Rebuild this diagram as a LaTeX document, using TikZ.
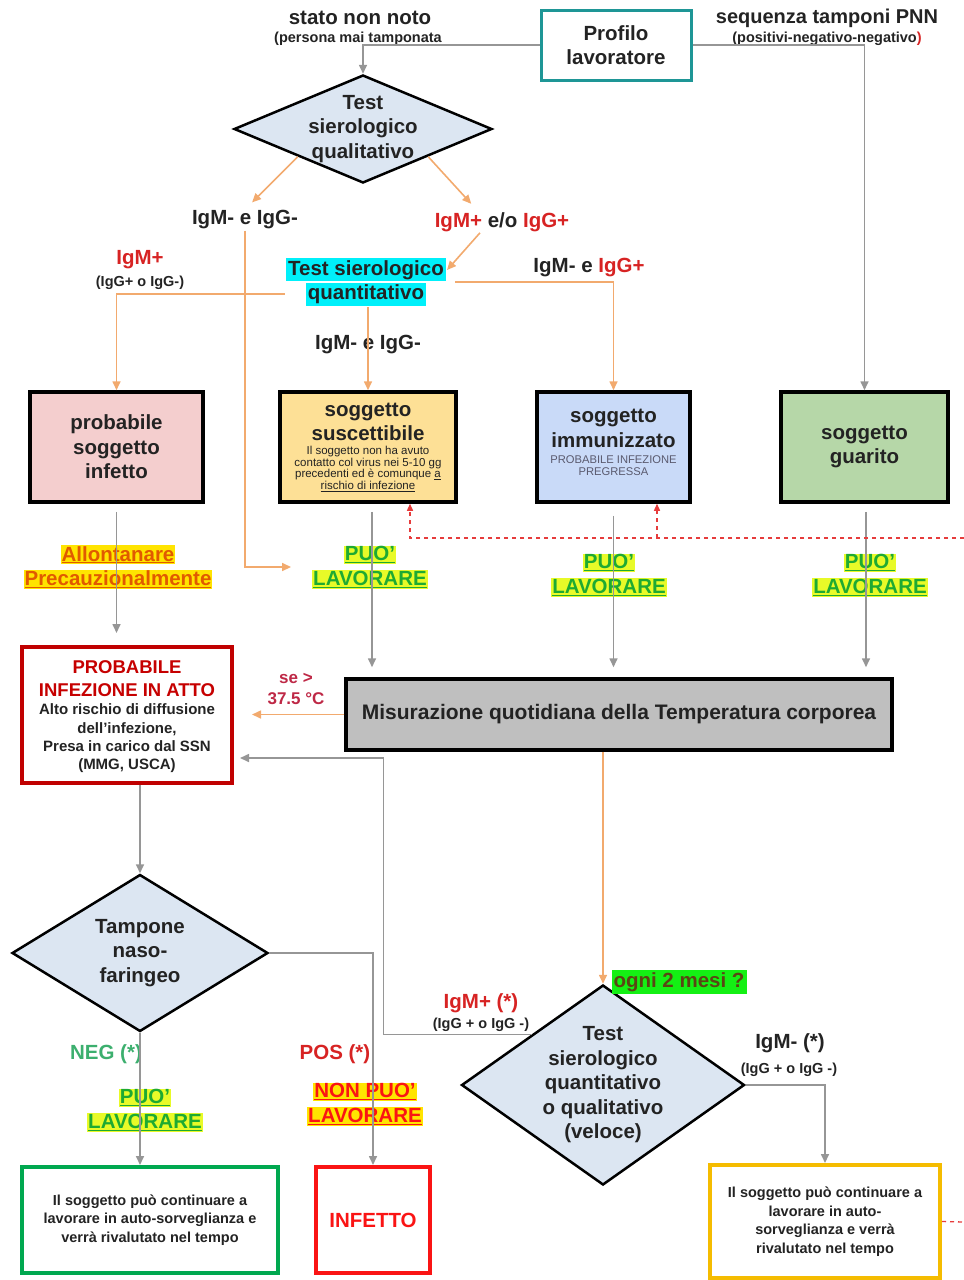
\documentclass[tikz,border=0pt]{standalone}
\usepackage{fontspec}
\setmainfont{Liberation Sans}
\usetikzlibrary{arrows.meta,shapes.geometric}

\definecolor{tealline}{RGB}{30,150,150}
\definecolor{orline}{RGB}{242,170,110}
\definecolor{greyline}{RGB}{150,150,150}
\definecolor{igred}{RGB}{215,35,35}
\definecolor{pinkfill}{RGB}{244,206,206}
\definecolor{yelfill}{RGB}{253,224,150}
\definecolor{bluefill}{RGB}{201,218,248}
\definecolor{greenfill}{RGB}{182,215,168}
\definecolor{diamfill}{RGB}{220,230,242}
\definecolor{greyfill}{RGB}{191,191,191}
\definecolor{darkred}{RGB}{192,0,0}
\definecolor{boxgreen}{RGB}{0,168,80}
\definecolor{boxred}{RGB}{250,20,20}
\definecolor{boxgold}{RGB}{245,188,0}
\definecolor{hlyellow}{RGB}{232,250,40}
\definecolor{hlorange}{RGB}{255,228,0}
\definecolor{puogreen}{RGB}{30,170,50}
\definecolor{allorange}{RGB}{225,90,0}
\definecolor{hlcyan}{RGB}{0,240,250}
\definecolor{hlgreen}{RGB}{20,240,20}
\definecolor{ognitxt}{RGB}{90,70,20}
\definecolor{negtext}{RGB}{60,175,110}
\definecolor{tempred}{RGB}{190,40,70}
\definecolor{txt}{RGB}{35,35,35}
\definecolor{graytxt}{RGB}{90,90,110}
\definecolor{dashred}{RGB}{230,60,60}

% highlighted, underlined word
\newcommand{\hiword}[3]{{\setlength{\fboxsep}{1pt}\colorbox{#1}{\textcolor{#2}{\underline{#3}}}}}
% highlighted word, no underline
\newcommand{\hiplain}[2]{{\setlength{\fboxsep}{2pt}\colorbox{#1}{#2}}}

\begin{document}
\begin{tikzpicture}[x=1pt, y=-1pt,
  lbl/.style={font=\bfseries\fontsize{20.5}{24.5}\selectfont, text=txt, align=center, inner sep=1pt},
  note/.style={font=\bfseries\fontsize{14.5}{17}\selectfont, text=txt, align=center, inner sep=1pt},
  boxtxt/.style={font=\bfseries\fontsize{14.5}{18.5}\selectfont, text=txt, align=center},
  card/.style={lbl, draw=black, line width=3.5pt},
  diam/.style={diamond, draw=black, line width=2.5pt, fill=diamfill, inner sep=0pt},
  gline/.style={draw=greyline, line width=1.6pt, -{Triangle[length=9pt,width=8pt]}},
  oline/.style={draw=orline, line width=1.6pt, -{Triangle[length=9pt,width=8pt]}},
  rdash/.style={draw=dashred, line width=1.3pt, dash pattern=on 4pt off 4pt}]
  \useasboundingbox (0,0) rectangle (964,1280);

  % Starting profile
  \node[card, draw=tealline, line width=3pt, fill=white, minimum width=150pt, minimum height=70pt] (profilo) at (616,45) {Profilo\\lavoratore};
  \node[lbl] (unk) at (360,18) {stato non noto};
  \node[note] (unk-s) at (358,39) {(persona mai tamponata};
  \node[lbl, font=\bfseries\fontsize{20}{24}\selectfont] (pnn) at (827,18) {sequenza tamponi PNN};
  \node[note] (pnn-s) at (827,39) {(positivi-negativo-negativo\textcolor{igred}{)}};

  % First serological test
  \node[diam, minimum width=258pt, minimum height=108pt] (tsq) at (363,129) {};
  \node[lbl] (tsq-t) at (tsq) {Test\\sierologico\\qualitativo};
  \node[lbl] (neg1) at (245,220) {IgM- e IgG-};
  \node[lbl] (pos1) at (502,222) {\textcolor{igred}{IgM+} e/o \textcolor{igred}{IgG+}};

  % Quantitative test and its outcomes
  \node[lbl] (tsqn) at (366,282) {\hiplain{hlcyan}{Test sierologico}\\\hiplain{hlcyan}{quantitativo}};
  \node[lbl, text=igred] (igmp) at (140,260) {IgM+};
  \node[note] (igmp-s) at (140,283) {(IgG+ o IgG-)};
  \node[lbl] (igmg) at (589,268) {IgM- e \textcolor{igred}{IgG+}};
  \node[lbl] (neg2) at (368,345) {IgM- e IgG-};

  % Subject categories
  \node[card, fill=pinkfill, minimum width=173pt, minimum height=110pt] (infetto) at (116.5,447) {probabile\\soggetto\\infetto};
  \node[card, fill=yelfill, minimum width=176pt, minimum height=110pt] (susc) at (368,447) {};
  \node[lbl] (susc-t) at (368,422) {soggetto\\suscettibile};
  \node[font=\fontsize{11.5}{11.6}\selectfont, text=txt, align=center, inner sep=0pt] (susc-s) at (368,469)
    {Il soggetto non ha avuto\\contatto col virus nei 5-10 gg\\precedenti ed è comunque \underline{a}\\\underline{rischio di infezione}};
  \node[card, fill=bluefill, minimum width=153pt, minimum height=110pt] (immun) at (613.5,447) {};
  \node[lbl] (immun-t) at (613.5,428.5) {soggetto\\immunizzato};
  \node[font=\fontsize{11.2}{12}\selectfont, text=graytxt, align=center, inner sep=0pt] (immun-s) at (613.5,466) {PROBABILE INFEZIONE\\PREGRESSA};
  \node[card, fill=greenfill, minimum width=167pt, minimum height=110pt] (guarito) at (864.5,447) {soggetto\\guarito};

  % Work permissions
  \node[lbl] (allon) at (118,567) {\hiword{hlorange}{allorange}{Allontanare}\\\hiword{hlorange}{allorange}{Precauzionalmente}};
  \node[lbl] (puo1) at (370,567) {\hiword{hlyellow}{puogreen}{PUO'}\\\hiword{hlyellow}{puogreen}{LAVORARE}};
  \node[lbl] (puo2) at (609,575) {\hiword{hlyellow}{puogreen}{PUO'}\\\hiword{hlyellow}{puogreen}{LAVORARE}};
  \node[lbl] (puo3) at (870,575) {\hiword{hlyellow}{puogreen}{PUO'}\\\hiword{hlyellow}{puogreen}{LAVORARE}};

  % Daily check and probable infection
  \node[card, fill=white, draw=darkred, line width=4pt, minimum width=210pt, minimum height=136pt] (pia) at (127,715) {};
  \node[lbl, text=darkred!90!red, font=\bfseries\fontsize{18.5}{23}\selectfont] (pia-t) at (127,678.5) {PROBABILE\\INFEZIONE IN ATTO};
  \node[lbl, font=\bfseries\fontsize{15}{18.3}\selectfont] (pia-s) at (127,738.5) {Alto rischio di diffusione\\dell'infezione,\\Presa in carico dal SSN\\(MMG, USCA)};
  \node[card, fill=greyfill, minimum width=546pt, minimum height=71pt, font=\bfseries\fontsize{21}{24}\selectfont] (misu) at (619,714.5) {Misurazione quotidiana della Temperatura corporea};
  \node[lbl, text=tempred, font=\bfseries\fontsize{17}{21}\selectfont] (temp) at (296,689) {se >\\37.5 °C};

  % Swab and periodic test
  \node[diam, minimum width=256pt, minimum height=157pt] (tamp) at (140,953) {};
  \node[lbl] (tamp-t) at (tamp) {Tampone\\naso-\\faringeo};
  \node[diam, minimum width=283pt, minimum height=200pt] (vel) at (603,1085) {};
  \node[lbl] (vel-t) at (vel) {Test\\sierologico\\quantitativo\\o qualitativo\\(veloce)};
  \node[lbl] (ogni) at (679,982) {\hiplain{hlgreen}{\textcolor{ognitxt}{ogni 2 mesi ?}}};
  \node[lbl, text=igred] (velp) at (481,1003) {IgM+ (*)};
  \node[note] (velp-s) at (481,1025) {(IgG + o IgG -)};
  \node[lbl] (veln) at (790,1043) {IgM- (*)};
  \node[note] (veln-s) at (789,1070) {(IgG + o IgG -)};
  \node[lbl, text=negtext] (neg3) at (106,1054) {NEG (*)};
  \node[lbl, text=igred] (posl) at (335,1054) {POS (*)};
  \node[lbl] (puo4) at (145,1110) {\hiword{hlyellow}{puogreen}{PUO'}\\\hiword{hlyellow}{puogreen}{LAVORARE}};
  \node[lbl] (nonpuo) at (365,1104) {\hiword{hlorange}{boxred}{NON PUO'}\\\hiword{hlorange}{boxred}{LAVORARE}};

  % Final outcomes
  \node[boxtxt, draw=boxgreen, line width=4pt, minimum width=256pt, minimum height=106pt] (grnbox) at (150,1220) {Il soggetto può continuare a\\lavorare in auto-sorveglianza e\\verrà rivalutato nel tempo};
  \node[lbl, text=boxred, draw=boxred, line width=4pt, minimum width=114pt, minimum height=106pt] (infbox) at (373,1220) {INFETTO};
  \node[boxtxt, font=\bfseries\fontsize{14.5}{18.5}\selectfont, draw=boxgold, line width=4pt, minimum width=230pt, minimum height=113pt] (yelbox) at (825,1221.5) {Il soggetto può continuare a\\lavorare in auto-\\sorveglianza e verrà\\rivalutato nel tempo};

  % Connectors from the profile
  \draw[gline] (profilo.west) -| (tsq.north);
  \draw[gline] (profilo.east) -| (guarito.north);

  % Orange branches of the serological tests
  \draw[oline, shorten >=10pt] (tsq.south west) -- (neg1.north);
  \draw[oline, shorten >=10pt] (tsq.south east) -- ([xshift=-24pt]pos1.north);
  \draw[oline] ([xshift=-22pt]pos1.south) -- ([yshift=12pt]tsqn.east);
  \draw[oline] ([yshift=-12pt]tsqn.west) -| (infetto.north);
  \draw[oline] ([xshift=8pt]tsqn.east) -| (immun.north);
  \draw[oline] (tsqn.south -| susc.north) -- (susc.north);
  \draw[oline, shorten >=20pt] (neg1.south) |- (puo1.west);

  % Grey connectors to the daily check
  \draw[gline, shorten <=8pt, shorten >=12pt] (infetto.south) -- (infetto.south |- pia.north);
  \draw[gline, shorten <=8pt, shorten >=10pt] ([xshift=4pt]susc.south) -- ([xshift=4pt]susc.south |- misu.north);
  \draw[gline, shorten <=12pt, shorten >=10pt] (immun.south) -- (immun.south |- misu.north);
  \draw[gline, shorten <=8pt, shorten >=10pt] ([xshift=1.5pt]guarito.south) -- ([xshift=1.5pt]guarito.south |- misu.north);

  % Red dashed feedback loop
  \coordinate (loopR) at (964,538);
  \coordinate (susc-in) at ([xshift=42pt]susc.south);
  \coordinate (immun-in) at ([xshift=43.5pt]immun.south);
  \coordinate (loopB) at (964,1222);
  \draw[rdash, -{Triangle[length=7pt,width=6pt]}] (loopR) -| (susc-in);
  \draw[rdash, -{Triangle[length=7pt,width=6pt]}] (immun-in |- loopR) -- (immun-in);
  \draw[rdash] (yelbox.east) -- (loopB);

  % Temperature and test connectors
  \draw[oline, shorten >=18pt] (misu.west) -- (misu.west -| pia.east);
  \draw[gline, shorten >=6pt] (vel.north west) -- ++(-148,0) |- ([yshift=-43pt]pia.east);
  \draw[gline] (tamp.north |- pia.south) -- (tamp.north);
  \draw[oline] (vel.north |- misu.south) -- (vel.north);
  \draw[gline] (vel.east) -| (yelbox.north);
  \draw[gline] (tamp.south) -- (tamp.south |- grnbox.north);
  \draw[gline] (tamp.east) -| (infbox.north);
\end{tikzpicture}
\end{document}
